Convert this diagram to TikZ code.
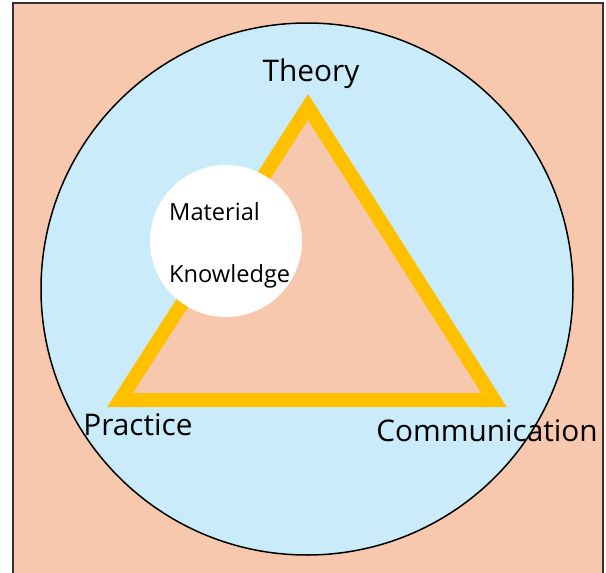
\documentclass[tikz,border=0pt]{standalone}
\usepackage{fontspec}
\setmainfont{Open Sans}
\usepackage{tikz}
\usetikzlibrary{positioning}

\definecolor{salmon}{HTML}{F8C8AE}
\definecolor{skyblue}{HTML}{C9EBFA}
\definecolor{gold}{HTML}{FFC000}

\begin{document}
\begin{tikzpicture}[x=1pt, y=-1pt,
  corner/.style={font=\fontsize{29.8}{34}\selectfont, inner sep=0pt},
  inner/.style={font=\fontsize{23.6}{28}\selectfont, inner sep=0pt, anchor=base west}
]
\useasboundingbox (0,0) rectangle (606,573);
\fill[white] (0,0) rectangle (606,573);
\draw[fill=salmon, draw=black!80, line width=2] (13,3) rectangle (603,585);
\draw[fill=skyblue, line width=1.5] (307,289) circle (266);

% triangle
\coordinate (top) at (308,107);
\coordinate (left) at (120,400);
\coordinate (right) at (494,400);
\draw[fill=salmon, draw=gold, line width=14, miter limit=10] (top) -- (left) -- (right) -- cycle;

\node[circle, fill=white, minimum size=152] (knowledge) at (226,241) {};
\node[inner] (mat) at (169,220) {Material};
\node[inner] (know) at (169,282) {Knowledge};

\node[corner] (theory) at (311,74) {Theory};
\node[corner] (practice) at (138,425) {Practice};
\node[corner] (comm) at (487,431) {Communication};
\end{tikzpicture}
\end{document}
